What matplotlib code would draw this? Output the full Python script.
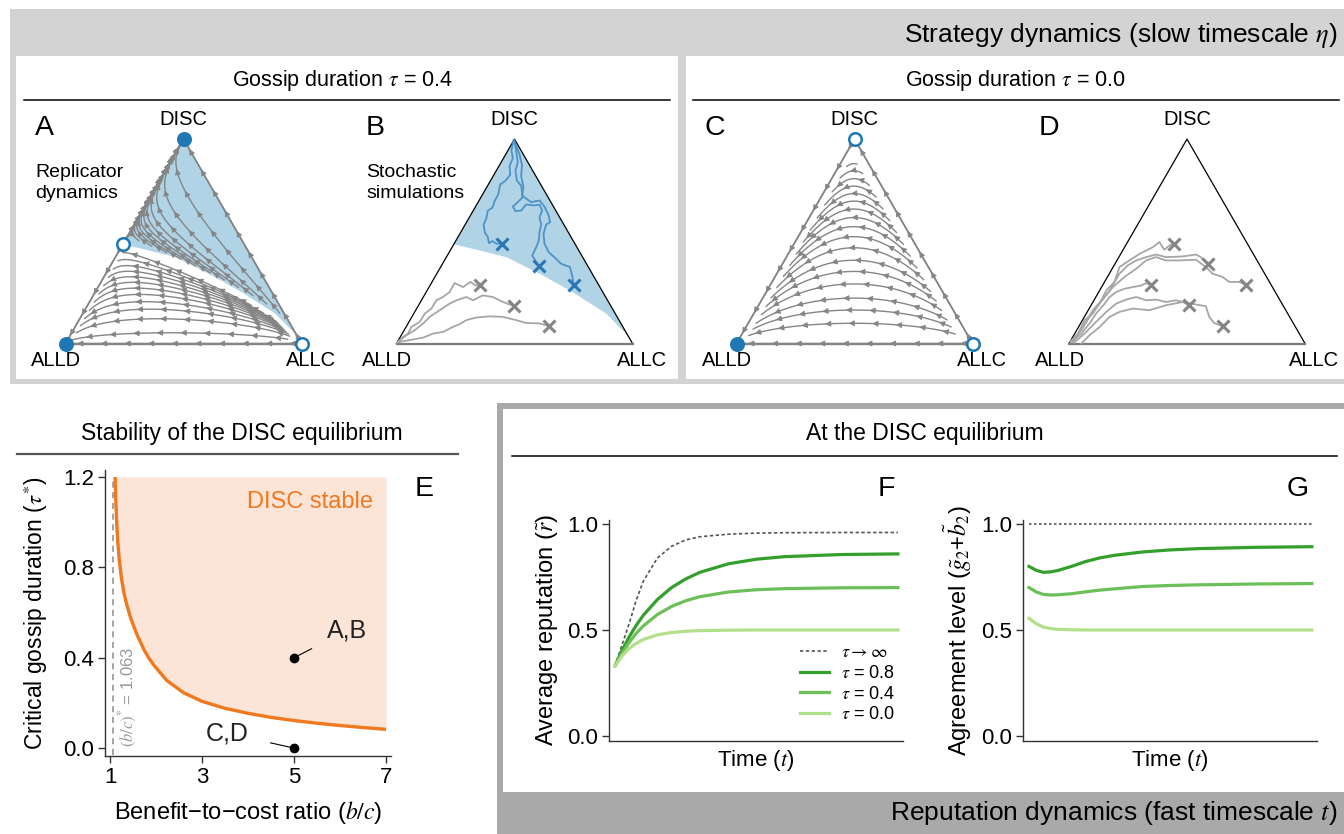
import numpy as np
import matplotlib.pyplot as plt
from matplotlib.patches import Rectangle, Polygon, FancyArrowPatch

plt.rcParams['font.family'] = ['Liberation Sans', 'DejaVu Sans']
plt.rcParams['mathtext.fontset'] = 'stix'

W, H = 1344, 834
SQ = np.sqrt(3) / 2

# =============================================================================
# Data
# =============================================================================

# panel E: critical gossip duration vs benefit-to-cost ratio
BC_RATIO = [1.11, 1.125, 1.145, 1.17, 1.2, 1.25, 1.3, 1.35, 1.45, 1.58, 1.74, 1.84,
            1.95, 2.23, 2.6, 3.0, 3.5, 4.0, 4.5, 5.0, 5.5, 6.0, 6.5, 7.0]
TAU_CRIT = [1.20, 1.10, 1.00, 0.91, 0.835, 0.75, 0.69, 0.645, 0.575, 0.505, 0.435, 0.40,
            0.368, 0.30, 0.245, 0.207, 0.176, 0.154, 0.136, 0.122, 0.11, 0.10, 0.091, 0.083]
BC_THRESHOLD = 1.063
EXAMPLE_BC = [5, 5]
EXAMPLE_TAU = [0.4, 0.0]
EXAMPLE_LABELS = ['A,B', 'C,D']

# panel F: average reputation over time
TIME = [0, 0.25, 0.5, 0.75, 1, 1.5, 2, 2.5, 3, 4, 5, 6, 8, 10]
REP_INF = [0.33, 0.43, 0.53, 0.64, 0.73, 0.84, 0.895, 0.925, 0.94, 0.952, 0.957, 0.959, 0.96, 0.96]
REP_08 = [0.33, 0.404, 0.467, 0.522, 0.569, 0.644, 0.70, 0.741, 0.772, 0.812, 0.834, 0.846, 0.856, 0.859]
REP_04 = [0.33, 0.39, 0.441, 0.484, 0.519, 0.573, 0.611, 0.638, 0.657, 0.679, 0.690, 0.695, 0.699, 0.70]
REP_00 = [0.33, 0.378, 0.413, 0.437, 0.455, 0.477, 0.488, 0.494, 0.497, 0.499, 0.50, 0.50, 0.50, 0.50]

# panel G: agreement level over time
AGREE_INF = [1.0] * len(TIME)
AGREE_08 = [0.80, 0.782, 0.772, 0.774, 0.78, 0.80, 0.823, 0.84, 0.852, 0.868, 0.878, 0.884, 0.89, 0.893]
AGREE_04 = [0.70, 0.68, 0.668, 0.665, 0.666, 0.671, 0.68, 0.688, 0.694, 0.705, 0.71, 0.713, 0.717, 0.719]
AGREE_00 = [0.555, 0.53, 0.514, 0.507, 0.503, 0.501, 0.50, 0.50, 0.50, 0.50, 0.50, 0.50, 0.50, 0.50]

TAU_LABELS = [r'$\tau\rightarrow\infty$', r'$\tau$ = 0.8', r'$\tau$ = 0.4', r'$\tau$ = 0.0']
GREENS = ['#33a02c', '#6dbf5a', '#b2df8a']

# simplex (ternary) panels; cartesian coords with ALLD=(0,0), ALLC=(1,0), DISC=(0.5, 0.866)
SADDLE_DISC_SHARE = 0.485
SEP_X = [0.2425, 0.33, 0.465, 0.606, 0.746, 0.888, 0.972, 1.0]
SEP_Y = [0.42, 0.40, 0.366, 0.296, 0.218, 0.127, 0.042, 0.0]

# payoffs (rows/cols: ALLC, ALLD, DISC) driving the replicator flow
PAYOFF_A = np.array([[0.0, 0.0, 0.0], [1.0, 1.0, 1.0], [0.5, 0.5, 1.53]])
PAYOFF_C = np.array([[0.0, 0.0, 0.0], [1.0, 1.0, 1.0], [0.5, 0.5, 0.5]])

# where the flow lines are anchored
A_UPPER_SEEDS = [0.03, 0.10, 0.17, 0.25, 0.33, 0.41, 0.49, 0.57, 0.65, 0.73, 0.81, 0.89]
A_LOWER_SEEDS = [0.015, 0.045, 0.075, 0.105, 0.14, 0.175, 0.21, 0.245, 0.28, 0.315, 0.35, 0.385]
C_SEEDS = [0.04, 0.07, 0.10, 0.14, 0.18, 0.22, 0.27, 0.32, 0.37, 0.42, 0.47,
           0.52, 0.57, 0.62, 0.67, 0.72, 0.76]

# stochastic simulation paths, panel B
B_BLUE = [
    ([0.496, 0.487, 0.493, 0.479, 0.482, 0.462, 0.439, 0.431, 0.417, 0.406, 0.387, 0.380,
      0.369, 0.375, 0.386, 0.392, 0.406, 0.423, 0.446],
     [0.862, 0.817, 0.786, 0.752, 0.715, 0.690, 0.673, 0.631, 0.606, 0.575, 0.563, 0.528,
      0.504, 0.468, 0.454, 0.425, 0.434, 0.423, 0.423]),
    ([0.499, 0.507, 0.514, 0.504, 0.510, 0.528, 0.535, 0.521, 0.493, 0.504, 0.528, 0.549,
      0.585, 0.606, 0.617, 0.606, 0.613, 0.606, 0.603, 0.592, 0.575, 0.603],
     [0.859, 0.817, 0.768, 0.732, 0.690, 0.669, 0.620, 0.606, 0.580, 0.561, 0.563, 0.589,
      0.585, 0.589, 0.563, 0.535, 0.504, 0.472, 0.437, 0.408, 0.373, 0.327]),
    ([0.501, 0.521, 0.532, 0.528, 0.538, 0.532, 0.570, 0.606, 0.627, 0.645, 0.651, 0.634,
      0.623, 0.627, 0.645, 0.676, 0.697, 0.735, 0.744, 0.751],
     [0.852, 0.803, 0.754, 0.711, 0.662, 0.627, 0.599, 0.606, 0.580, 0.542, 0.514, 0.504,
      0.465, 0.423, 0.387, 0.359, 0.338, 0.324, 0.289, 0.249]),
]
B_GRAY = [
    ([0.003, 0.028, 0.049, 0.063, 0.099, 0.120, 0.148, 0.169, 0.197, 0.225, 0.246, 0.282,
      0.313, 0.335, 0.352],
     [0.003, 0.028, 0.042, 0.070, 0.092, 0.127, 0.148, 0.183, 0.197, 0.218, 0.256, 0.239,
      0.261, 0.246, 0.249]),
    ([0.007, 0.042, 0.077, 0.113, 0.141, 0.183, 0.225, 0.254, 0.296, 0.324, 0.366, 0.408,
      0.451, 0.496],
     [0.007, 0.035, 0.056, 0.085, 0.113, 0.141, 0.169, 0.183, 0.197, 0.183, 0.204, 0.197,
      0.176, 0.159]),
    ([0.014, 0.070, 0.113, 0.155, 0.197, 0.239, 0.268, 0.296, 0.338, 0.394, 0.451, 0.507,
      0.549, 0.606, 0.648],
     [0.007, 0.017, 0.025, 0.042, 0.049, 0.070, 0.082, 0.099, 0.110, 0.115, 0.113, 0.099,
      0.087, 0.085, 0.073]),
]
# stochastic simulation paths, panel D
D_GRAY = [
    ([0.006, 0.038, 0.066, 0.101, 0.137, 0.158, 0.193, 0.214, 0.256, 0.299, 0.355, 0.383,
      0.404, 0.425, 0.444],
     [0.007, 0.042, 0.099, 0.127, 0.183, 0.225, 0.261, 0.324, 0.352, 0.380, 0.408, 0.430,
      0.397, 0.415, 0.423]),
    ([0.010, 0.052, 0.087, 0.130, 0.172, 0.214, 0.249, 0.285, 0.327, 0.369, 0.411, 0.482,
      0.538, 0.559, 0.589],
     [0.011, 0.056, 0.113, 0.169, 0.225, 0.296, 0.331, 0.352, 0.366, 0.377, 0.366, 0.369,
      0.377, 0.366, 0.335]),
    ([0.014, 0.059, 0.101, 0.151, 0.186, 0.235, 0.285, 0.327, 0.369, 0.411, 0.468, 0.538,
      0.580, 0.608, 0.651, 0.679, 0.721, 0.749],
     [0.007, 0.070, 0.141, 0.197, 0.239, 0.282, 0.317, 0.352, 0.366, 0.352, 0.352, 0.355,
      0.324, 0.296, 0.282, 0.261, 0.261, 0.249]),
    ([0.017, 0.052, 0.087, 0.115, 0.151, 0.172, 0.200, 0.235, 0.270, 0.306, 0.327, 0.348],
     [0.011, 0.042, 0.085, 0.127, 0.169, 0.197, 0.218, 0.232, 0.239, 0.246, 0.256, 0.249]),
    ([0.020, 0.066, 0.115, 0.158, 0.200, 0.242, 0.285, 0.327, 0.369, 0.411, 0.454, 0.482,
      0.507],
     [0.003, 0.042, 0.092, 0.134, 0.169, 0.186, 0.197, 0.183, 0.186, 0.176, 0.183, 0.176,
      0.162]),
    ([0.052, 0.087, 0.130, 0.172, 0.214, 0.270, 0.341, 0.411, 0.482, 0.517, 0.580, 0.594,
      0.615, 0.651],
     [0.0, 0.035, 0.070, 0.113, 0.134, 0.148, 0.141, 0.162, 0.176, 0.169, 0.158, 0.113,
      0.087, 0.073]),
]

BLUE = '#1f77b4'
BLUE_FILL = '#b0d3e6'
FLOW_GRAY = '#858585'
ORANGE = '#f0781e'


# =============================================================================
# Helpers
# =============================================================================

def px_axes(x0, y0, x1, y1, **kw):
    """axes placed by pixel box (y measured from the top)."""
    ax = fig.add_axes([x0 / W, 1 - y1 / H, (x1 - x0) / W, (y1 - y0) / H], **kw)
    ax.set_facecolor('none')
    return ax


def to_bary(x, y):
    z = y / SQ
    c = x - 0.5 * z
    return np.array([c, 1 - c - z, z])


def to_cart(p):
    return p[0] + 0.5 * p[2], SQ * p[2]


def flow_line(p, M, stop=None, sign=1, ds=0.004, max_len=2.0):
    """replicator trajectory traced with (roughly) constant arc-length steps."""
    p = np.clip(np.array(p, float), 0, None)
    p /= p.sum()
    pts = [to_cart(p)]
    length = 0.0
    while length < max_len:
        f = M @ p
        v = sign * p * (f - p @ f)
        sp = np.hypot(v[0] + 0.5 * v[2], SQ * v[2])
        if sp < 1e-7:
            break
        p = np.clip(p + v * ds / sp, 0, None)
        p /= p.sum()
        pts.append(to_cart(p))
        length += ds
        if p.max() > 0.985 or (stop is not None and stop(p)):
            break
    pts = np.array(pts)
    return pts if sign > 0 else pts[::-1]


def draw_flow(ax, pts, spacing=0.1, offset=0.05):
    if len(pts) < 4:
        return
    ax.plot(pts[:, 0], pts[:, 1], color=FLOW_GRAY, lw=1.0, zorder=3,
            solid_capstyle='round')
    s = np.concatenate([[0], np.cumsum(np.hypot(*np.diff(pts, axis=0).T))])
    for target in np.arange(offset, s[-1] - 0.02, spacing):
        i = min(max(np.searchsorted(s, target), 1), len(pts) - 2)
        d = pts[i + 1] - pts[i - 1]
        d = d / np.hypot(*d)
        ax.add_patch(FancyArrowPatch(pts[i] - d * 0.012, pts[i] + d * 0.004,
                                     arrowstyle='-|>,head_length=0.45,head_width=0.22',
                                     mutation_scale=8, color=FLOW_GRAY, lw=0.6,
                                     shrinkA=0, shrinkB=0, zorder=4))


def tri_axes(x_alld, y_alld, unit=236):
    ax = px_axes(x_alld - 0.2 * unit, y_alld - 1.0 * unit,
                 x_alld + 1.2 * unit, y_alld + 0.15 * unit)
    ax.set_xlim(-0.2, 1.2)
    ax.set_ylim(-0.15, 1.0)
    ax.axis('off')
    ax.text(0.5, 0.95, 'DISC', ha='center', va='center', fontsize=14.5)
    ax.text(-0.04, -0.07, 'ALLD', ha='center', va='center', fontsize=14.5)
    ax.text(1.04, -0.07, 'ALLC', ha='center', va='center', fontsize=14.5)
    return ax


def vertex(ax, x, y, filled):
    ax.plot(x, y, 'o', ms=9, color=BLUE, mfc=BLUE if filled else 'white',
            mew=1.8, zorder=6, clip_on=False)


def basin_shading(ax):
    poly = [(0.5, SQ)] + list(zip(SEP_X, SEP_Y))
    ax.add_patch(Polygon(poly, closed=True, facecolor=BLUE_FILL, edgecolor='none', zorder=1))


def sim_paths(ax, paths, line_color, mark_color):
    for xs, ys in paths:
        ax.plot(xs, ys, color=line_color, lw=1.3, zorder=3)
        ax.plot(xs[-1], ys[-1], 'x', ms=9, mew=2.2, color=mark_color, zorder=5)


def style_axes(ax):
    for side in ['top', 'right']:
        ax.spines[side].set_visible(False)
    for side in ['left', 'bottom']:
        ax.spines[side].set_color('#333333')
        ax.spines[side].set_linewidth(1.0)
    ax.tick_params(direction='out', length=5, width=1, color='#333333',
                   labelsize=16, pad=3)


def near_boundary(p):
    x, y = to_cart(p)
    return y > np.interp(x, SEP_X, SEP_Y) - 0.03 or p[0] > 0.93


# =============================================================================
# Figure
# =============================================================================

fig = plt.figure(figsize=(W / 100, H / 100), dpi=100)

bg = fig.add_axes([0, 0, 1, 1], zorder=0)
bg.set_xlim(0, W)
bg.set_ylim(H, 0)
bg.axis('off')

bg.add_patch(Rectangle((10, 9), W - 10, 375, color='#d3d3d3', lw=0))
bg.add_patch(Rectangle((16, 56), 662, 323, color='white', lw=0))
bg.add_patch(Rectangle((686, 56), W - 686, 323, color='white', lw=0))
bg.add_patch(Rectangle((497, 403), W - 497, H - 403, color='#a9a9a9', lw=0))
bg.add_patch(Rectangle((503, 409), W - 503, 383, color='white', lw=0))

bg.plot([24, 670], [100, 100], color='black', lw=1.1)
bg.plot([693, 1339], [100, 100], color='black', lw=1.1)
bg.plot([17, 458], [454, 454], color='#555555', lw=1.6)
bg.plot([512, 1337], [456, 456], color='black', lw=1.1)

bg.text(1338, 35, r'Strategy dynamics (slow timescale $\eta$)', ha='right', va='center',
        fontsize=19)
bg.text(1338, 813, r'Reputation dynamics (fast timescale $t$)', ha='right', va='center',
        fontsize=19)
bg.text(343, 80, r'Gossip duration $\tau$ = 0.4', ha='center', va='center', fontsize=15.5)
bg.text(1016, 80, r'Gossip duration $\tau$ = 0.0', ha='center', va='center', fontsize=15.5)
bg.text(242, 433, 'Stability of the DISC equilibrium', ha='center', va='center', fontsize=16.5)
bg.text(925, 433, 'At the DISC equilibrium', ha='center', va='center', fontsize=16.5)

for lab, x, y in [('A', 35, 128), ('B', 366, 128), ('C', 705, 128), ('D', 1039, 128),
                  ('E', 415, 489), ('F', 878, 489), ('G', 1287, 489)]:
    bg.text(x, y, lab, ha='left', va='center', fontsize=20.5)
bg.text(35, 183, 'Replicator\ndynamics', ha='left', va='center', fontsize=14, linespacing=1.25)
bg.text(366, 183, 'Stochastic\nsimulations', ha='left', va='center', fontsize=14,
        linespacing=1.25)

# ---- A: replicator dynamics, tau = 0.4
ax = tri_axes(65.5, 343.5)
basin_shading(ax)
ax.plot([0, 1, 0.5, 0], [0, 0, SQ, 0], color=FLOW_GRAY, lw=1.2, zorder=2)
# stable manifold of the edge saddle, used to place the upper flow lines
sep = flow_line((0.003, 0.997 - SADDLE_DISC_SHARE, SADDLE_DISC_SHARE), PAYOFF_A,
                sign=-1, ds=0.003, stop=lambda p: p[0] > 0.98)[::-1]
sep_s = np.concatenate([[0], np.cumsum(np.hypot(*np.diff(sep, axis=0).T))])
for frac in A_UPPER_SEEDS:
    i = min(np.searchsorted(sep_s, frac * sep_s[-1]), len(sep) - 1)
    p0 = np.clip(to_bary(sep[i, 0] - 0.015, sep[i, 1] + 0.05), 0.006, None)
    draw_flow(ax, flow_line(p0, PAYOFF_A, stop=lambda p: p[2] > 0.975))
for h in A_LOWER_SEEDS:
    p0 = to_bary(h / (2 * SQ) + 0.02, h)
    draw_flow(ax, flow_line(p0, PAYOFF_A, sign=-1, max_len=0.95, stop=near_boundary))
for seed in [(0.985, 0.015, 0), (0.985, 0, 0.015),
             (0, 1 - SADDLE_DISC_SHARE - 0.01, SADDLE_DISC_SHARE + 0.01),
             (0, 1 - SADDLE_DISC_SHARE + 0.01, SADDLE_DISC_SHARE - 0.01)]:
    draw_flow(ax, flow_line(seed, PAYOFF_A), offset=0.03)
vertex(ax, 0.5, SQ, True)
vertex(ax, 0, 0, True)
vertex(ax, 1, 0, False)
vertex(ax, 0.5 * SADDLE_DISC_SHARE, SQ * SADDLE_DISC_SHARE, False)

# ---- B: stochastic simulations, tau = 0.4
ax = tri_axes(396.5, 343.5)
basin_shading(ax)
ax.plot([0, 0.5, 1], [0, SQ, 0], color='black', lw=0.9, zorder=2)
ax.plot([0, 1], [0, 0], color='#7a7a7a', lw=1.6, zorder=2)
sim_paths(ax, B_GRAY, '#a6a6a6', '#858585')
sim_paths(ax, B_BLUE, '#4d93c9', '#2b76b5')

# ---- C: replicator dynamics, tau = 0.0
ax = tri_axes(736.5, 343.5)
ax.plot([0, 1, 0.5, 0], [0, 0, SQ, 0], color=FLOW_GRAY, lw=1.2, zorder=2)
for h in C_SEEDS:
    p0 = to_bary(1 - h / (2 * SQ) - 0.05, h)
    draw_flow(ax, flow_line(p0, PAYOFF_C, stop=lambda p: p[0] < 0.035))
for seed in [(0.985, 0.015, 0), (0.985, 0, 0.015), (0, 0.015, 0.985)]:
    draw_flow(ax, flow_line(seed, PAYOFF_C), offset=0.03)
vertex(ax, 0.5, SQ, False)
vertex(ax, 0, 0, True)
vertex(ax, 1, 0, False)

# ---- D: stochastic simulations, tau = 0.0
ax = tri_axes(1069, 343.5)
ax.plot([0, 0.5, 1], [0, SQ, 0], color='black', lw=0.9, zorder=2)
ax.plot([0, 1], [0, 0], color='#7a7a7a', lw=1.6, zorder=2)
sim_paths(ax, D_GRAY, '#a6a6a6', '#858585')

# ---- E: stability of DISC equilibrium
ax = px_axes(105, 470, 391, 756)
style_axes(ax)
ax.set_xlim(0.891, 7.109)
ax.set_ylim(-0.035, 1.231)
ax.fill_between(BC_RATIO, TAU_CRIT, 1.2, color='#fce5d6', lw=0, zorder=1)
ax.plot(BC_RATIO, TAU_CRIT, color=ORANGE, lw=2.4, zorder=3, solid_capstyle='butt')
ax.plot([BC_THRESHOLD, BC_THRESHOLD], [-0.03, 1.2], color='#8c8c8c', lw=1.1,
        ls=(0, (4, 3)), zorder=2)
ax.text(1.40, 0.225, r'$(b/c)^{*}$ = 1.063', rotation=90, ha='center', va='center',
        fontsize=12, color='#9a9a9a')
ax.text(6.72, 1.09, 'DISC stable', ha='right', va='center', fontsize=17, color=ORANGE)
ax.plot(EXAMPLE_BC, EXAMPLE_TAU, 'o', color='black', ms=6, zorder=5, clip_on=False)
ax.annotate(EXAMPLE_LABELS[0], xy=(EXAMPLE_BC[0], EXAMPLE_TAU[0]), xytext=(6.15, 0.52),
            ha='center', va='center', fontsize=18, color='#222222',
            arrowprops=dict(arrowstyle='-', color='black', lw=0.8,
                            shrinkA=10, shrinkB=3))
ax.annotate(EXAMPLE_LABELS[1], xy=(EXAMPLE_BC[1], EXAMPLE_TAU[1]), xytext=(3.55, 0.066),
            ha='center', va='center', fontsize=18, color='#222222',
            arrowprops=dict(arrowstyle='-', color='black', lw=0.8,
                            shrinkA=14, shrinkB=3))
ax.set_xticks([1, 3, 5, 7])
ax.set_yticks([0.0, 0.4, 0.8, 1.2])
ax.set_yticklabels(['0.0', '0.4', '0.8', '1.2'])
ax.set_xlabel(r'Benefit−to−cost ratio ($b/c$)', fontsize=17, labelpad=8)
ax.set_ylabel(r'Critical gossip duration ($\tau^{*}$)', fontsize=16.5, labelpad=9)

# ---- F: average reputation
ax = px_axes(609, 520, 903, 741)
style_axes(ax)
ax.set_xlim(-0.212, 10.18)
ax.set_ylim(-0.024, 1.019)
ax.plot(TIME, REP_INF, color='#555555', lw=1.2, ls=(0, (2, 1.5)), label=TAU_LABELS[0])
for vals, col, lab in zip([REP_08, REP_04, REP_00], GREENS, TAU_LABELS[1:]):
    ax.plot(TIME, vals, color=col, lw=2.3, label=lab)
ax.set_xticks([])
ax.set_yticks([0.0, 0.5, 1.0])
ax.set_yticklabels(['0.0', '0.5', '1.0'])
ax.set_xlabel(r'Time ($t$)', fontsize=16, labelpad=5)
ax.set_ylabel(r'Average reputation ($\tilde{r}$)', fontsize=17, labelpad=5)
ax.legend(loc='lower right', bbox_to_anchor=(0.975, 0.08), frameon=False, fontsize=13,
          handlelength=1.6, handletextpad=0.7, labelspacing=0.2, borderpad=0,
          borderaxespad=0)

# ---- G: agreement level
ax = px_axes(1023, 520, 1317, 741)
style_axes(ax)
ax.set_xlim(-0.212, 10.18)
ax.set_ylim(-0.024, 1.019)
ax.plot(TIME, AGREE_INF, color='#555555', lw=1.2, ls=(0, (1.5, 1.5)))
for vals, col in zip([AGREE_08, AGREE_04, AGREE_00], GREENS):
    ax.plot(TIME, vals, color=col, lw=2.3)
ax.set_xticks([])
ax.set_yticks([0.0, 0.5, 1.0])
ax.set_yticklabels(['0.0', '0.5', '1.0'])
ax.set_xlabel(r'Time ($t$)', fontsize=16, labelpad=5)
ax.set_ylabel(r'Agreement level ($\tilde{g}_2$+$\tilde{b}_2$)', fontsize=17, labelpad=5)

fig.savefig('out.png', dpi=100)
